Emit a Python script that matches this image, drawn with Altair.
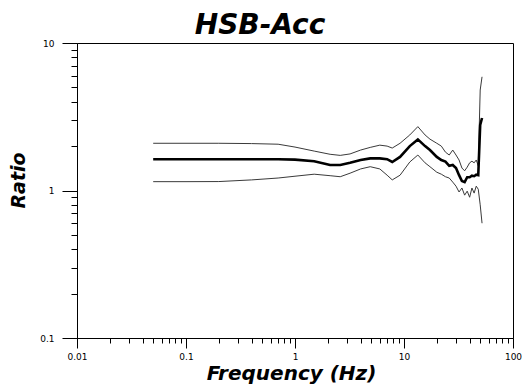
import altair as alt
import pandas as pd

freq = [0.05, 0.1, 0.2, 0.4, 0.7, 1.0, 1.5, 2.1, 2.6, 3.2, 4.0, 4.9, 6.0, 7.0, 7.8, 9.2,
        11.3, 13.4, 15.6, 17.3, 20, 22, 24, 26, 28, 30, 32, 34, 36, 38, 40, 42, 44, 46, 48, 50, 52]
mean = [1.63, 1.63, 1.63, 1.63, 1.63, 1.62, 1.58, 1.49, 1.49, 1.54, 1.61, 1.65, 1.65, 1.63, 1.56, 1.69,
        2.0, 2.22, 2.0, 1.88, 1.69, 1.61, 1.57, 1.47, 1.49, 1.42, 1.27, 1.16, 1.14, 1.23, 1.23, 1.26,
        1.25, 1.28, 1.27, 2.78, 3.1]
upper = [2.09, 2.09, 2.09, 2.08, 2.06, 1.97, 1.85, 1.76, 1.73, 1.77, 1.88, 1.96, 2.03, 2.0, 1.94, 2.09,
         2.38, 2.71, 2.38, 2.23, 2.09, 2.0, 1.82, 1.74, 1.88, 1.74, 1.61, 1.42, 1.36, 1.44, 1.54, 1.58,
         1.54, 1.61, 1.47, 4.8, 5.9]
lower = [1.148, 1.148, 1.15, 1.18, 1.215, 1.25, 1.29, 1.26, 1.24, 1.31, 1.40, 1.45, 1.40, 1.27, 1.18, 1.27,
         1.56, 1.74, 1.54, 1.45, 1.33, 1.29, 1.24, 1.215, 1.14, 1.07, 0.977, 1.04, 0.93, 0.99, 0.90, 1.04,
         0.96, 1.07, 1.02, 0.80, 0.60]

x_major = [0.01, 0.1, 1, 10, 100]
y_major = [0.1, 1, 10]
x_ticks = sorted(set([round(k * 10 ** d, 6) for d in range(-2, 2) for k in range(1, 10)] + x_major))
y_ticks = sorted(set([round(k * 10 ** d, 6) for d in range(-1, 1) for k in range(1, 10)] + y_major))

rows = []
for name, vals in [("upper", upper), ("lower", lower), ("mean", mean)]:
    for f, v in zip(freq, vals):
        rows.append({"freq": f, "ratio": v, "series": name})
df = pd.DataFrame(rows)

xmaj_test = "indexof([0.01,0.1,1,10,100], datum.value) >= 0"
ymaj_test = "indexof([0.1,1,10], datum.value) >= 0"

FONT = "DejaVu Sans"

x_enc = alt.X(
    "freq:Q",
    scale=alt.Scale(type="log", domain=[0.01, 100], nice=False),
    axis=alt.Axis(
        values=x_ticks,
        labelExpr=f"{xmaj_test} ? '' + datum.value : ''",
        tickSize={"condition": {"test": xmaj_test, "value": 10}, "value": 5},
        labelPadding=4, labelFont=FONT, labelFontSize=9, labelColor="black",
        tickColor="black", domainColor="black", grid=False,
        labelOverlap=False, labelFlush=False,
        title="Frequency (Hz)", titleFont=FONT, titleFontSize=20,
        titleFontWeight="bold", titleFontStyle="italic", titleColor="black",
        titleX=214, titleY=41, titleAlign="center", titleBaseline="alphabetic",
    ),
)
y_enc = alt.Y(
    "ratio:Q",
    scale=alt.Scale(type="log", domain=[0.1, 10], nice=False),
    axis=alt.Axis(
        values=y_ticks,
        labelExpr=f"{ymaj_test} ? '' + datum.value : ''",
        tickSize={"condition": {"test": ymaj_test, "value": 15}, "value": 6},
        labelPadding=8, labelFont=FONT, labelFontSize=9, labelColor="black",
        tickColor="black", domainColor="black", grid=False,
        labelOverlap=False, labelFlush=False,
        title="Ratio", titleFont=FONT, titleFontSize=19,
        titleFontWeight="bold", titleFontStyle="italic", titleColor="black",
        titleX=-53, titleY=137, titleAlign="center", titleBaseline="alphabetic",
        titleAngle=270,
    ),
)

base = alt.Chart(df)
thin = base.transform_filter("datum.series != 'mean'").mark_line(
    color="#3a3a3a", strokeWidth=1
).encode(x=x_enc, y=y_enc, detail="series:N", order="freq:Q")
thick = base.transform_filter("datum.series == 'mean'").mark_line(
    color="black", strokeWidth=2.6
).encode(x=x_enc, y=y_enc, order="freq:Q")

chart = alt.layer(thin, thick).properties(
    width=436, height=295,
    autosize="none",
    padding={"left": 77, "top": 43, "right": 13, "bottom": 47},
    background="white",
    title=alt.Title("HSB-Acc", font=FONT, fontSize=28, fontWeight="bold", fontStyle="italic",
                    color="black", anchor="middle", dx=-35, dy=29, baseline="alphabetic", offset=6),
).configure_view(stroke="black", strokeWidth=1)

chart.save("out.html", embed_options={"renderer": "svg", "actions": False})
